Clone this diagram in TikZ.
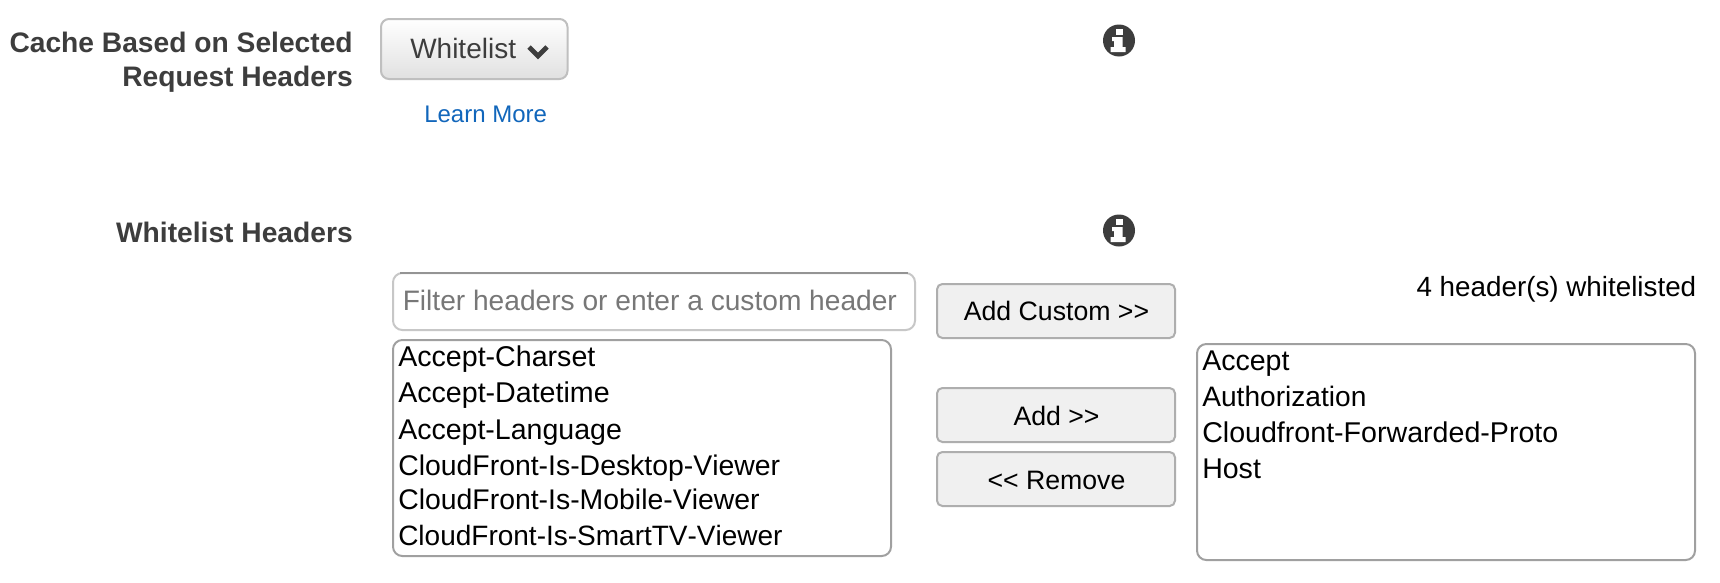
\documentclass[tikz,border=0pt]{standalone}
\usepackage{fontspec}
\setmainfont[Kerning=Off]{Liberation Sans}
\definecolor{labelgray}{HTML}{3D3D3D}
\definecolor{linkblue}{HTML}{1166BB}
\definecolor{hintgray}{HTML}{777777}
\definecolor{edgegray}{HTML}{A0A0A0}
\definecolor{btnfill}{HTML}{F0F0F0}
\tikzset{
  lbl/.style={anchor=base east, inner sep=0, text=labelgray, font=\fontsize{21.15}{25}\selectfont\bfseries},
  item/.style={anchor=base west, inner sep=0, font=\fontsize{#1}{25}\selectfont},
  item/.default=21,
  btntext/.style={anchor=base, inner sep=0, font=\fontsize{20}{24}\selectfont},
  listbox/.style={draw=edgegray, line width=1.5pt, rounded corners=7pt, fill=white},
  btnbox/.style={draw=edgegray!85, line width=1.5pt, rounded corners=4pt, fill=btnfill},
}
\begin{document}
\begin{tikzpicture}[x=.75pt,y=-.75pt]
\useasboundingbox (0,0) rectangle (1720,582);
\fill[white] (0,0) rectangle (1720,582);
% labels on the left
\node[lbl] (cachelabel) at (353,52) {Cache Based on Selected};
\node[lbl] (requestlabel) at (353,86) {Request Headers};
\node[lbl] (headerslabel) at (353,242) {Whitelist Headers};
% dropdown
\draw[draw=black!25, line width=1.5pt, rounded corners=6pt, top color=white, bottom color=black!12] (381,19) rectangle (567.5,79);
\node[item, text=labelgray] (whitelist) at (410,58) {Whitelist};
\draw[labelgray, line width=3.6pt, line cap=butt] (529,47) --++(9,9) --++(9,-9);
\node[item=18, text=linkblue] (learnmore) at (424,122) {Learn More};
% info icons
\foreach \y [count=\i] in {40.5,230.5} {
  \fill[labelgray] (1119,\y) circle (16);
  \fill[white] (1115.5,\y-12) rectangle ++(7,6.5);
  \fill[white] (1112,\y-3.5) -- ++(10.5,0) -- ++(0,10) -- ++(3,0) -- ++(0,5) -- ++(-15,0) -- ++(0,-5) -- ++(3.5,0) -- ++(0,-6) -- ++(-2,0) -- cycle;
}
% filter box
\draw[draw=black!22, line width=1.5pt, rounded corners=7pt] (393,273) rectangle (915,330);
\draw[draw=black!42, line width=1.5pt] (400,273) -- (908,273);
\node[item=21.1, text=hintgray] (filter) at (402.5,310) {Filter headers or enter a custom header};
% left list
\draw[listbox] (393,340) rectangle (891,556);
\foreach \name/\y/\s [count=\i] in {Accept-Charset/366/21.45,Accept-Datetime/402/21.45,Accept-Language/439/21.4,CloudFront-Is-Desktop-Viewer/475/21.3,CloudFront-Is-Mobile-Viewer/509/21.3,CloudFront-Is-SmartTV-Viewer/545/21}
  \node[item=\s] (left\i) at (398,\y) {\name};
% buttons
\draw[btnbox] (937,284) rectangle (1175,338);
\draw[btnbox] (937,388) rectangle (1175,442);
\draw[btnbox] (937,452) rectangle (1175,506);
\node[btntext] (addcustom) at (1056.5,320.5) {Add Custom >{}>};
\node[btntext] (add) at (1056.5,425) {Add >{}>};
\node[btntext] (remove) at (1056.5,489) {<{}< Remove};
% right list
\node[anchor=base east, inner sep=0, font=\fontsize{20.85}{25}\selectfont] (count) at (1696.5,296) {4 header(s) whitelisted};
\draw[listbox] (1197,344) rectangle (1695,560);
\foreach \name/\y/\s [count=\i] in {Accept/370/21.4,Authorization/406/21.1,Cloudfront-Forwarded-Proto/442/21.45,Host/478/21.4}
  \node[item=\s] (right\i) at (1202,\y) {\name};
\end{tikzpicture}
\end{document}
